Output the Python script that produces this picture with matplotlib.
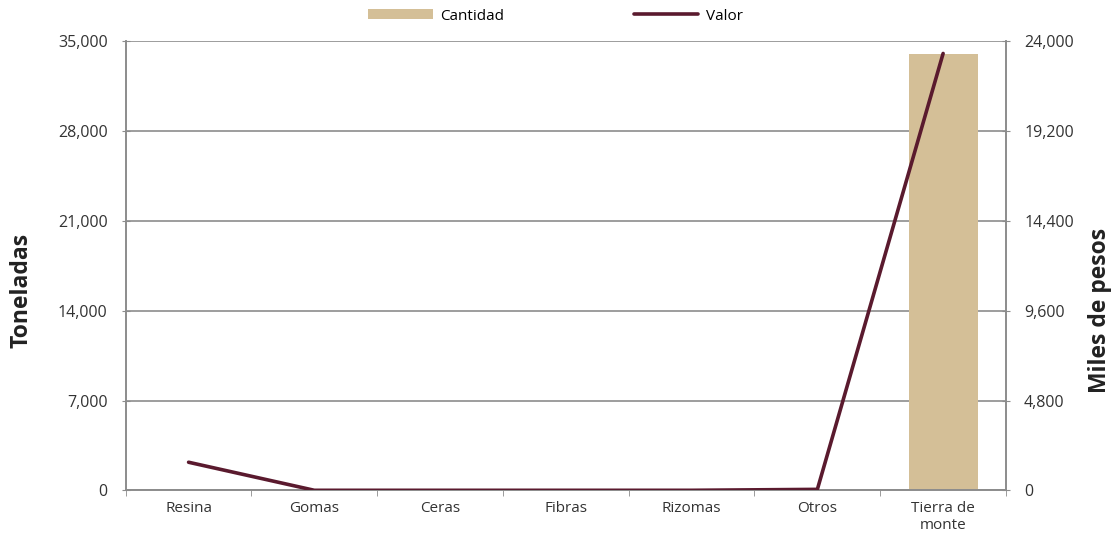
import matplotlib
matplotlib.use("Agg")
import matplotlib.pyplot as plt
from matplotlib.ticker import FuncFormatter, FixedLocator
import numpy as np

categories = ["Resina", "Gomas", "Ceras", "Fibras", "Rizomas", "Otros", "Tierra de\nmonte"]
cantidad = [40, 0, 0, 0, 0, 60, 34000]          # toneladas
valor = [1500, 0, 0, 0, 0, 50, 23350]            # miles de pesos
left_ticks = [0, 7000, 14000, 21000, 28000, 35000]
right_ticks = [0, 4800, 9600, 14400, 19200, 24000]

plt.rcParams['font.family'] = ['Open Sans', 'DejaVu Sans']

W, H = 1118, 541
fig = plt.figure(figsize=(W/100, H/100), dpi=100)
ax = fig.add_axes([125.7/W, 1 - 490.3/H, (1006-125.7)/W, (490.3-41.3)/H])
ax2 = ax.twinx()

x = np.arange(len(categories))
bar_color = "#D4BF97"
line_color = "#5A1A2E"
grid_color = "#8C8C8C"
text_color = "#333333"

ax.bar(x, cantidad, width=0.55, color=bar_color, label="Cantidad", zorder=2)
ax2.plot(x, valor, color=line_color, lw=2.6, label="Valor", zorder=3, solid_capstyle='round')

ax.set_xlim(-0.5, len(categories) - 0.5)
ax.set_ylim(0, 35000)
ax2.set_ylim(0, 24000)
ax.yaxis.set_major_locator(FixedLocator(left_ticks))
ax2.yaxis.set_major_locator(FixedLocator(right_ticks))
fmt = FuncFormatter(lambda v, p: f"{int(v):,}")
ax.yaxis.set_major_formatter(fmt)
ax2.yaxis.set_major_formatter(fmt)

ax.set_xticks(x)
ax.set_xticklabels(categories, fontsize=11, color=text_color, linespacing=1.1)
ax.set_xticks(np.arange(-0.5, len(categories) + 0.5, 1), minor=True)
ax.tick_params(axis='x', which='major', length=0, pad=8)
ax.tick_params(axis='x', which='minor', length=4, color=grid_color, direction='out')

ax.tick_params(axis='y', length=6, direction='inout', color=grid_color, labelsize=11.5, labelcolor=text_color, pad=10)
ax2.tick_params(axis='y', length=6, direction='inout', color=grid_color, labelsize=11.5, labelcolor=text_color, pad=10)

ax.grid(axis='y', color=grid_color, lw=1.2, zorder=0)
ax.set_axisbelow(True)

for a in (ax, ax2):
    a.spines['top'].set_visible(False)
    for s in ('left', 'right', 'bottom'):
        a.spines[s].set_color(grid_color)
        a.spines[s].set_linewidth(1.2)

fig.text(22/W, 1 - 290/H, "Toneladas", rotation=90, ha='center', va='center',
         fontsize=16.5, fontweight='bold', color="#222222")
fig.text(1100/W, 1 - 310/H, "Miles de pesos", rotation=90, ha='center', va='center',
         fontsize=16.5, fontweight='bold', color="#222222")

h1, l1 = ax.get_legend_handles_labels()
h2, l2 = ax2.get_legend_handles_labels()
fig.legend(h1 + h2, l1 + l2, loc='center', bbox_to_anchor=(0.497, 1 - 16/H), ncol=2,
           frameon=False, fontsize=11, handlelength=4.2, handleheight=0.6,
           handletextpad=0.5, columnspacing=8.5)

fig.savefig("out.png", dpi=100)
